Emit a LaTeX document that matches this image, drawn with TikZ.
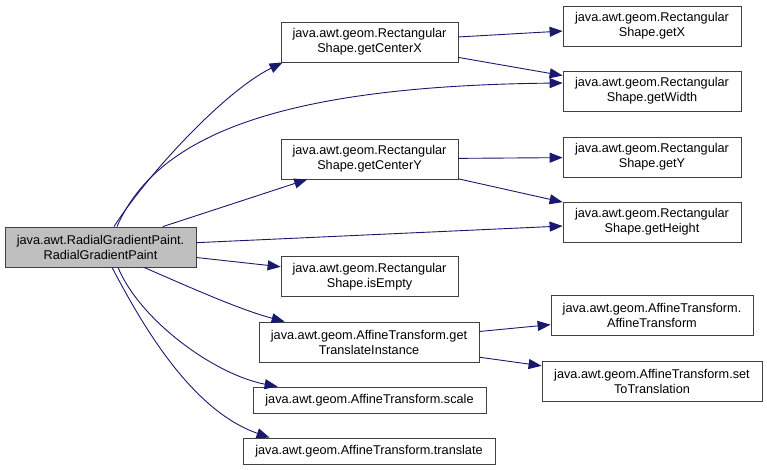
\documentclass[tikz,border=0pt]{standalone}
\usepackage{fontspec}
\setmainfont{Liberation Sans}
\usetikzlibrary{arrows.meta}

\definecolor{callblue}{HTML}{191970}
\tikzset{
  fn/.style={draw=black!75, fill=white, line width=0.8pt, align=center,
    inner sep=0pt, minimum height=40, font=\fontsize{12.7}{15}\selectfont},
  call/.style={draw=callblue, line width=0.9pt,
    -{Triangle[length=13pt,width=10pt,fill=callblue]}}
}

\begin{document}
\begin{tikzpicture}[x=1pt, y=-1pt]
  \useasboundingbox[fill=white] (0,0) rectangle (767,470);

  % The caller
  \node[fn, fill=black!25, minimum width=191] (root) at (100.5,247) {java.awt.RadialGradientPaint.\\RadialGradientPaint};

  % Called directly
  \node[fn, minimum width=177] (centerx) at (369.5,42) {java.awt.geom.Rectangular\\Shape.getCenterX};
  \node[fn, minimum width=177] (centery) at (369.5,159) {java.awt.geom.Rectangular\\Shape.getCenterY};
  \node[fn, minimum width=177] (isempty) at (369.5,276.5) {java.awt.geom.Rectangular\\Shape.isEmpty};
  \node[fn, minimum width=220] (transinst) at (369,342) {java.awt.geom.AffineTransform.get\\TranslateInstance};
  \node[fn, minimum width=233, minimum height=26] (scale) at (369.5,400) {java.awt.geom.AffineTransform.scale};
  \node[fn, minimum width=252, minimum height=26] (translate) at (369,451) {java.awt.geom.AffineTransform.translate};

  % Second level
  \node[fn, minimum width=178] (getx) at (652,26) {java.awt.geom.Rectangular\\Shape.getX};
  \node[fn, minimum width=178] (getwidth) at (652,91) {java.awt.geom.Rectangular\\Shape.getWidth};
  \node[fn, minimum width=178] (gety) at (652,157) {java.awt.geom.Rectangular\\Shape.getY};
  \node[fn, minimum width=178] (getheight) at (652,222) {java.awt.geom.Rectangular\\Shape.getHeight};
  \node[fn, minimum width=202] (affine) at (652,315) {java.awt.geom.AffineTransform.\\AffineTransform};
  \node[fn, minimum width=220] (settrans) at (652,381) {java.awt.geom.AffineTransform.set\\ToTranslation};

  % Calls from the caller
  \draw[call] ([xshift=13.5pt]root.north) .. controls +(32,-50) and +(-60,30) .. ([xshift=2pt]centerx.south west);
  \draw[call] ([xshift=16.5pt]root.north) .. controls +(38,-87) and +(-293,3) .. ([yshift=8pt]getwidth.west);
  \draw[call] (root) -- (centery);
  \draw[call] (root) -- (getheight);
  \draw[call] (root) -- (isempty);
  \draw[call] ([xshift=43.5pt]root.south) .. controls +(46,20) and +(-45,-12) .. ([xshift=26pt]transinst.north west);
  \draw[call] ([xshift=17.5pt]root.south) .. controls +(22,53) and +(-63,-12) .. ([xshift=25pt]scale.north west);
  \draw[call] ([xshift=11.5pt]root.south) .. controls +(28,53) and +(-80,-28) .. ([xshift=27pt]translate.north west);

  % Calls one level down
  \draw[call] (centerx) -- (getx);
  \draw[call] (centerx) -- (getwidth);
  \draw[call] (centery) -- (gety);
  \draw[call] (centery) -- (getheight);
  \draw[call] (transinst) -- (affine);
  \draw[call] (transinst) -- (settrans);
\end{tikzpicture}
\end{document}
